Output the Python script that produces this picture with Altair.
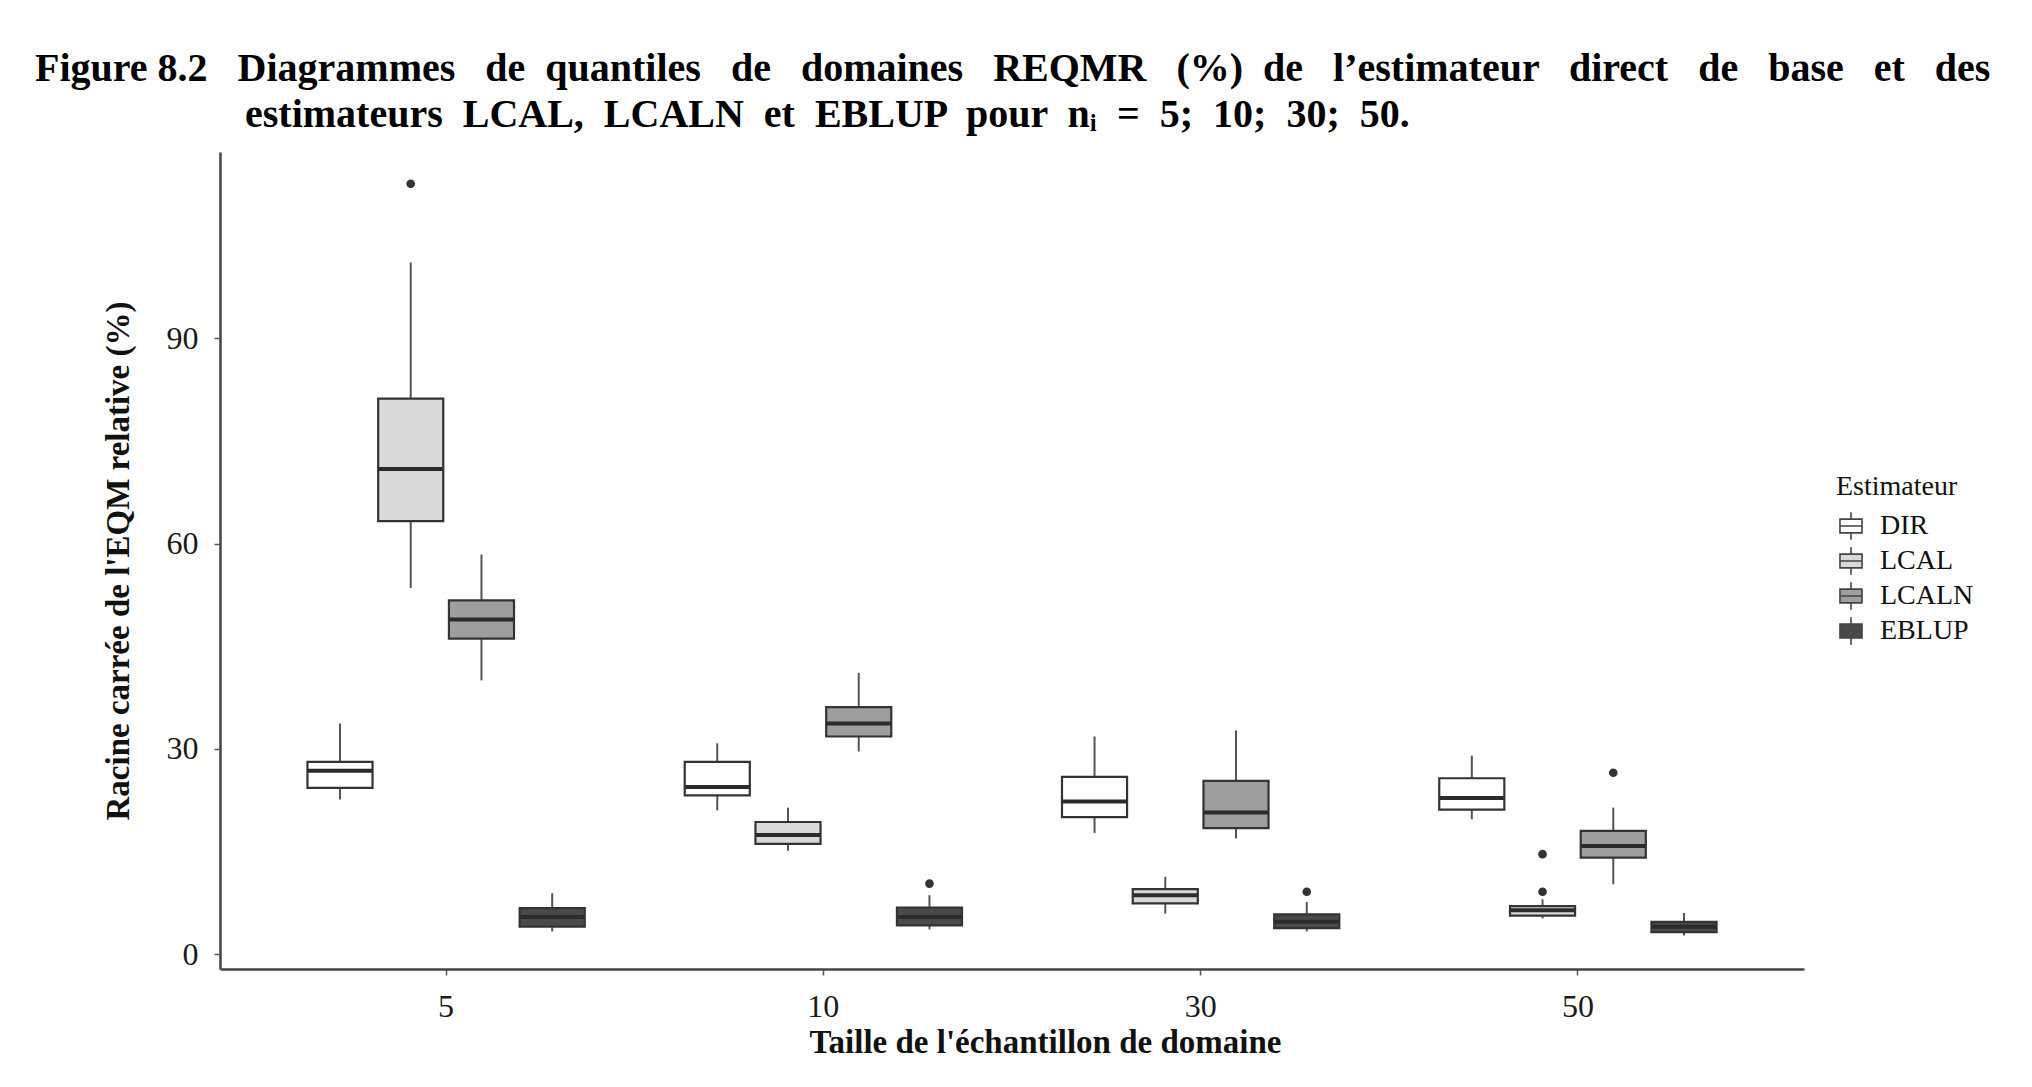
import altair as alt
import pandas as pd

# ---- data ----
sizes = ["5", "10", "30", "50"]
estimators = ["DIR", "LCAL", "LCALN", "EBLUP"]

# one value per (size, estimator), sizes outer, estimators inner
whisker_low = [22.6, 53.5, 40.0, 3.3,   21.0, 15.1, 29.6, 3.6,   17.7, 5.9, 16.9, 3.3,   19.7, 5.2, 10.2, 2.7]
q1 =          [24.3, 63.3, 46.1, 4.0,   23.2, 16.1, 31.8, 4.2,   20.0, 7.4, 18.4, 3.8,   21.1, 5.6, 14.1, 3.2]
median =      [26.8, 70.9, 48.9, 5.4,   24.4, 17.4, 33.7, 5.4,   22.3, 8.6, 20.7, 4.7,   22.8, 6.4, 15.8, 4.0]
q3 =          [28.1, 81.2, 51.7, 6.7,   28.1, 19.3, 36.1, 6.8,   25.9, 9.5, 25.3, 5.8,   25.7, 7.0, 18.0, 4.7]
whisker_high = [33.7, 101.1, 58.4, 8.9,  30.8, 21.4, 41.1, 8.6,   31.8, 11.3, 32.7, 7.6,  29.0, 8.0, 21.4, 6.0]

outlier_size = ["5", "10", "30", "50", "50", "50"]
outlier_est = ["LCAL", "EBLUP", "EBLUP", "LCAL", "LCAL", "LCALN"]
outlier_val = [112.6, 10.3, 9.1, 14.6, 9.1, 26.5]

fills = ["#ffffff", "#d9d9d9", "#9e9e9e", "#4a4a4a"]
y_ticks = [0, 30, 60, 90]

rows = []
k = 0
for s in sizes:
    for e in estimators:
        rows.append(dict(n=s, est=e, lo=whisker_low[k], q1=q1[k], med=median[k],
                         q3=q3[k], hi=whisker_high[k]))
        k += 1
df = pd.DataFrame(rows)
out_df = pd.DataFrame(dict(n=outlier_size, est=outlier_est, v=outlier_val))

FONT = "Liberation Serif"

x_enc = alt.X(
    "n:N", sort=sizes,
    scale=alt.Scale(domain=sizes, paddingInner=0.25, paddingOuter=0.2243),
    axis=alt.Axis(
        title="Taille de l'échantillon de domaine", labelAngle=0,
        labelFont=FONT, labelFontSize=32, labelColor="#1a1a1a", labelPadding=16,
        tickSize=6, tickColor="#555", tickWidth=1.5,
        domainColor="#444", domainWidth=2.5,
        titleFont=FONT, titleFontSize=33, titleFontWeight="bold", titleColor="#111",
        titlePadding=4, titleX=825,
    ),
)
xo_enc = alt.XOffset("est:N", sort=estimators,
                     scale=alt.Scale(domain=estimators, paddingInner=0.08, paddingOuter=0.04))
y_scale = alt.Scale(domain=[-2.19, 117.25], nice=False, zero=False)
y_axis = alt.Axis(
    title="Racine carrée de l'EQM relative (%)", values=y_ticks, grid=False,
    labelFont=FONT, labelFontSize=32, labelColor="#1a1a1a", labelPadding=16,
    tickSize=6, tickColor="#555", tickWidth=1.5,
    domainColor="#444", domainWidth=2.5,
    titleFont=FONT, titleFontSize=33, titleFontWeight="bold", titleColor="#111",
    titlePadding=31,
)

box_path = "M-0.8,-0.5H0.8V0.5H-0.8Z M-0.8,0H0.8 M0,-0.5V-1 M0,0.5V1"

whiskers = alt.Chart(df).mark_rule(color="#555", strokeWidth=2).encode(
    x=x_enc, xOffset=xo_enc,
    y=alt.Y("lo:Q", scale=y_scale, axis=y_axis), y2="hi:Q",
)
boxes = alt.Chart(df).mark_bar(stroke="#333", strokeWidth=2.2).encode(
    x=x_enc, xOffset=xo_enc,
    y=alt.Y("q1:Q", scale=y_scale), y2="q3:Q",
    fill=alt.Fill(
        "est:N", sort=estimators,
        scale=alt.Scale(domain=estimators, range=fills),
        legend=alt.Legend(
            title="Estimateur", orient="none", legendX=1616, legendY=321,
            symbolType=box_path, symbolSize=760, symbolStrokeColor="#444",
            symbolStrokeWidth=1.6, symbolOpacity=1,
            labelFont=FONT, labelFontSize=28, labelColor="#111", labelOffset=14,
            titleFont=FONT, titleFontSize=28, titleFontWeight="normal", titleColor="#111",
            titlePadding=10, rowPadding=1,
        ),
    ),
)
medians = alt.Chart(df).mark_tick(size=64, thickness=4, color="#2b2b2b", opacity=1).encode(
    x=x_enc, xOffset=xo_enc, y=alt.Y("med:Q", scale=y_scale),
)
points = alt.Chart(out_df).mark_circle(size=75, color="#333", opacity=1).encode(
    x=x_enc, xOffset=xo_enc, y=alt.Y("v:Q", scale=y_scale),
)

S3 = " \u00a0\u00a0"
S2 = " \u00a0"
words = ["Diagrammes", "de", "quantiles", "de", "domaines", "REQMR", "(%)", "de",
         "l’estimateur", "direct", "de", "base", "et", "des"]
gaps = [S3, S2, S3, S3, S3, S3, S2, S3, S3, S3, S3, S3, S3]
line1 = "Figure 8.2" + S3 + words[0]
for g, w in zip(gaps, words[1:]):
    line1 += g + w
words2 = ["estimateurs", "LCAL,", "LCALN", "et", "EBLUP", "pour", "nᵢ", "=", "5;", "10;", "30;", "50."]
line2 = "\u200b" + "\u00a0" * 21 + S2.join(words2)

chart = alt.layer(whiskers, boxes, medians, points).properties(
    width=1584, height=817,
    autosize=alt.AutoSizeParams(type="none"),
    padding={"left": 220, "top": 152, "right": 228, "bottom": 118},
    background="white",
    title=alt.TitleParams(
        text=line1, subtitle=line2, anchor="start", frame="group", dx=-185,
        font=FONT, fontSize=40, fontWeight="bold", color="#000",
        subtitleFont=FONT, subtitleFontSize=40, subtitleFontWeight="bold",
        subtitleColor="#000", subtitlePadding=6, offset=17,
    ),
).configure_view(stroke=None)

chart.save("out.html", embed_options={"renderer": "svg", "actions": False})
